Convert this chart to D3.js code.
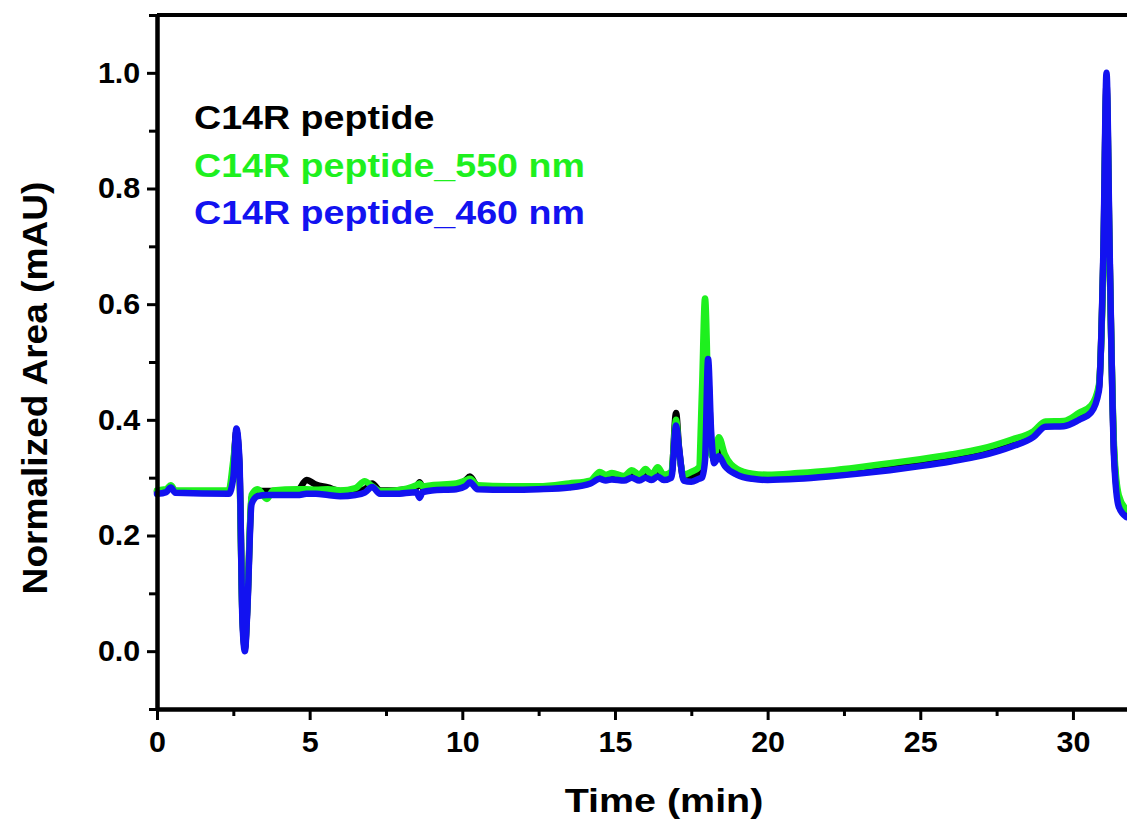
<!DOCTYPE html>
<html>
<head>
<meta charset="utf-8">
<script src="https://cdn.jsdelivr.net/npm/d3@7"></script>
<style>
  body { margin: 0; background: #fff; }
  text { font-family: Arial, "Liberation Sans", sans-serif; font-weight: bold; }
</style>
</head>
<body>
<div class="plot"></div>
<script>
// retention time (min), shared by the three traces
var times = [0, 0.3, 0.45, 0.6, 2.35, 2.5, 2.6, 2.7, 2.8, 2.88, 2.95, 3.1, 3.3, 3.6, 3.8,
  4.6, 4.9, 5.2, 5.6, 6.0, 6.5, 6.8, 7.05, 7.3, 7.8, 8.5, 8.6, 8.7, 9.0, 9.8, 10.1, 10.25,
  10.5, 11.5, 12.5, 13.5, 14.2, 14.5, 14.7, 14.9, 15.3, 15.55, 15.8, 16.0, 16.2, 16.4, 16.6,
  16.85, 17.0, 17.1, 17.25, 17.5, 17.75, 17.85, 17.95, 18.05, 18.15, 18.25, 18.4, 18.6, 19.0,
  19.5, 20, 21, 22, 23, 24, 25, 26, 27, 28, 28.7, 29.1, 29.7, 30.2, 30.6, 30.85, 31.0, 31.1,
  31.2, 31.35, 31.5, 31.75];

var peptide = [0.276, 0.277, 0.284, 0.276, 0.276, 0.32, 0.38, 0.32, 0.06, 0.005, 0.065, 0.265, 0.277, 0.277, 0.277,
  0.278, 0.296, 0.288, 0.283, 0.277, 0.277, 0.28, 0.29, 0.278, 0.278, 0.283, 0.292, 0.283, 0.283, 0.287, 0.295, 0.302,
  0.285, 0.283, 0.283, 0.287, 0.292, 0.303, 0.3, 0.302, 0.3, 0.306, 0.3, 0.307, 0.3, 0.31, 0.3,
  0.305, 0.412, 0.35, 0.3, 0.302, 0.31, 0.35, 0.5, 0.48, 0.36, 0.33, 0.345, 0.325, 0.31,
  0.302, 0.3, 0.303, 0.307, 0.312, 0.318, 0.325, 0.333, 0.343, 0.359, 0.374, 0.392, 0.393, 0.405, 0.418, 0.455, 0.69, 0.98,
  0.69, 0.34, 0.26, 0.238];

var peptide550 = [0.278, 0.28, 0.287, 0.278, 0.278, 0.33, 0.37, 0.31, 0.06, 0.01, 0.07, 0.27, 0.28, 0.263, 0.278,
  0.28, 0.28, 0.279, 0.28, 0.278, 0.282, 0.294, 0.285, 0.277, 0.278, 0.287, 0.29, 0.285, 0.287, 0.29, 0.295, 0.298,
  0.287, 0.285, 0.285, 0.29, 0.295, 0.31, 0.305, 0.308, 0.303, 0.313, 0.305, 0.315, 0.305, 0.318, 0.305,
  0.31, 0.40, 0.345, 0.305, 0.31, 0.318, 0.45, 0.61, 0.45, 0.34, 0.335, 0.37, 0.34, 0.315,
  0.307, 0.305, 0.308, 0.312, 0.318, 0.325, 0.332, 0.34, 0.35, 0.366, 0.38, 0.397, 0.398, 0.412, 0.425, 0.46, 0.68, 0.97,
  0.68, 0.35, 0.27, 0.245];

var peptide460 = [0.272, 0.275, 0.283, 0.274, 0.272, 0.30, 0.385, 0.33, 0.05, 0.0, 0.06, 0.255, 0.268, 0.27, 0.27,
  0.27, 0.272, 0.272, 0.27, 0.268, 0.27, 0.274, 0.284, 0.272, 0.272, 0.275, 0.265, 0.275, 0.278, 0.28, 0.285, 0.292,
  0.28, 0.279, 0.28, 0.283, 0.29, 0.298, 0.295, 0.297, 0.295, 0.3, 0.295, 0.3, 0.296, 0.302, 0.296,
  0.3, 0.39, 0.35, 0.295, 0.293, 0.298, 0.30, 0.33, 0.505, 0.38, 0.325, 0.337, 0.32, 0.305,
  0.298, 0.296, 0.298, 0.302, 0.307, 0.313, 0.32, 0.328, 0.338, 0.354, 0.37, 0.388, 0.389, 0.40, 0.413, 0.45, 0.7, 1.0,
  0.7, 0.33, 0.25, 0.232];

var seriesNames = ["C14R peptide", "C14R peptide_550 nm", "C14R peptide_460 nm"];
var seriesColors = ["#000000", "#1ef01e", "#1212f0"];
var seriesValues = [peptide, peptide550, peptide460];

var xMajor = [0, 5, 10, 15, 20, 25, 30];
var xMinor = [2.5, 7.5, 12.5, 17.5, 22.5, 27.5];
var yMajor = [0.0, 0.2, 0.4, 0.6, 0.8, 1.0];
var yMinor = [-0.1, 0.1, 0.3, 0.5, 0.7, 0.9, 1.1];

var width = 1127,
    height = 822;

var x = d3.scaleLinear().domain([0, 32]).range([157, 1134]);
var y = d3.scaleLinear().domain([-0.1, 1.1]).range([709, 15]);

var svg = d3.select(".plot").append("svg")
    .attr("width", width)
    .attr("height", height);

var line = d3.line()
    .curve(d3.curveMonotoneX)
    .x(function(d) { return x(d[0]); })
    .y(function(d) { return y(d[1]); });

// traces, black first so blue ends on top
svg.selectAll(".trace")
    .data(seriesValues)
  .enter().append("path")
    .attr("class", "trace")
    .attr("fill", "none")
    .attr("stroke", function(d, i) { return seriesColors[i]; })
    .attr("stroke-width", 6.5)
    .attr("stroke-linejoin", "round")
    .attr("stroke-linecap", "round")
    .attr("d", function(vals) { return line(times.map(function(t, j) { return [t, vals[j]]; })); });

// frame: top line
svg.append("line")
    .attr("x1", x(0)).attr("x2", x(32))
    .attr("y1", y(1.1)).attr("y2", y(1.1))
    .attr("stroke", "#000").attr("stroke-width", 4);

// the original lettering is a bit wider than Arial, so stretch it sideways
function styleAxis(g) {
  g.select(".domain").attr("stroke", "#000").attr("stroke-width", 4);
  g.selectAll(".tick line").attr("stroke-width", 3);
  g.selectAll(".tick text")
      .style("font-size", "29px")
      .attr("fill", "#000")
      .attr("transform", "scale(1.05,1)");
}

// x axis
svg.append("g")
    .attr("transform", "translate(0," + y(-0.1) + ")")
    .call(d3.axisBottom(x).tickValues(xMinor).tickSize(7).tickSizeOuter(0).tickFormat(""))
    .call(styleAxis);
svg.append("g")
    .attr("transform", "translate(0," + y(-0.1) + ")")
    .call(d3.axisBottom(x).tickValues(xMajor).tickSize(11).tickSizeOuter(0).tickPadding(11).tickFormat(d3.format("d")))
    .call(styleAxis);

// y axis
svg.append("g")
    .attr("transform", "translate(" + x(0) + ",0)")
    .call(d3.axisLeft(y).tickValues(yMinor).tickSize(8).tickSizeOuter(0).tickFormat(""))
    .call(styleAxis);
svg.append("g")
    .attr("transform", "translate(" + x(0) + ",0)")
    .call(d3.axisLeft(y).tickValues(yMajor).tickSize(10).tickSizeOuter(0).tickPadding(6).tickFormat(d3.format(".1f")))
    .call(styleAxis);

// axis titles
svg.append("text")
    .attr("transform", "translate(664,812) scale(1.16,1)")
    .attr("text-anchor", "middle")
    .style("font-size", "34px")
    .text("Time (min)");

svg.append("text")
    .attr("transform", "translate(47,388) rotate(-90) scale(1.06,1)")
    .attr("text-anchor", "middle")
    .style("font-size", "35px")
    .text("Normalized Area (mAU)");

// legend
svg.selectAll(".legend")
    .data(seriesNames)
  .enter().append("text")
    .attr("class", "legend")
    .attr("transform", function(d, i) { return "translate(194," + (129 + i * 47.5) + ") scale(1.14,1)"; })
    .attr("fill", function(d, i) { return seriesColors[i]; })
    .style("font-size", "33px")
    .text(function(d) { return d; });
</script>
</body>
</html>
